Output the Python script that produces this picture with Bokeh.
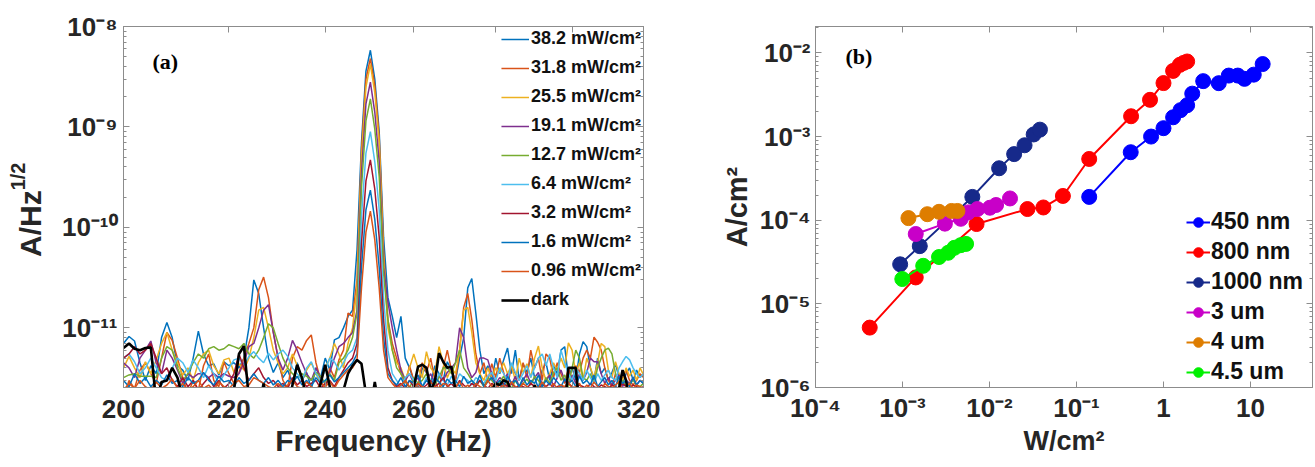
from bokeh.plotting import figure
from bokeh.models import (Range1d, FixedTicker, LogAxis, CustomJSTickFormatter,
                          Legend, LegendItem, Label)
from bokeh.layouts import row
from bokeh.embed import file_html
from bokeh.resources import INLINE

# ---------------- data: panel (a) ----------------
freq = list(range(200, 321))  # Hz
# noise current spectral density, in pA/Hz^1/2 (1e-12 A/Hz^1/2), one value per Hz from 200 to 320
s_38_2 = [7.0, 8.2, 7.4, 4.5, 3.0, 4.2, 3.5, 8.0, 11.3, 8.0,
          4.2, 3.8, 3.0, 5.0, 9.3, 5.5, 4.2, 4.4, 3.4, 4.6,
          4.2, 4.5, 4.0, 5.0, 10, 30, 22, 10, 5.0, 3.6,
          4.5, 3.2, 3.8, 2.8, 4.5, 3.0, 3.6, 2.5, 4.0, 3.2,
          5.0, 3.8, 7.6, 8.0, 10, 13, 15, 60, 700, 3600,
          5800, 3000, 900, 80, 20, 13, 8.0, 13, 5.0, 4.0,
          3.0, 2.5, 4.0, 3.6, 2.8, 4.2, 3.5, 3.0, 4.6, 3.8,
          3.0, 5.0, 8.0, 25, 31, 14, 6.0, 3.5, 4.2, 3.0,
          5.0, 3.5, 4.8, 6.3, 3.5, 6.0, 3.0, 4.4, 3.6, 5.0,
          3.2, 2.5, 3.8, 4.5, 3.0, 4.2, 3.5, 6.0, 6.5, 3.2,
          4.0, 3.0, 5.5, 7.3, 6.5, 4.0, 3.0, 5.0, 3.5, 4.0,
          3.0, 3.6, 4.4, 3.2, 2.8, 3.5, 4.0, 3.0, 3.8, 3.2,
          3.5]
s_31_8 = [2.0, 3.0, 2.5, 3.8, 4.5, 3.5, 2.8, 5.0, 9.0, 7.5,
          5.0, 3.2, 2.2, 3.0, 2.4, 4.2, 5.5, 3.0, 2.6, 4.6,
          3.5, 2.8, 3.6, 5.0, 7.0, 10, 24, 32, 20, 9.0,
          5.0, 3.0, 2.5, 5.0, 6.5, 6.0, 7.5, 8.5, 4.5, 3.0,
          2.5, 4.0, 3.2, 4.8, 6.0, 14, 13, 30, 600, 3000,
          4800, 2600, 800, 60, 12, 7.0, 5.0, 3.5, 2.8, 4.2,
          3.0, 2.6, 4.5, 3.6, 5.0, 3.0, 2.4, 4.0, 6.0, 3.8,
          3.0, 6.0, 16, 22, 12, 5.5, 3.5, 4.5, 3.0, 4.4,
          3.2, 5.0, 3.6, 2.6, 4.2, 3.5, 3.0, 4.5, 3.2, 6.0,
          4.0, 5.0, 3.0, 5.5, 5.0, 3.2, 4.5, 3.5, 2.8, 4.0,
          3.0, 4.2, 3.6, 5.0, 6.0, 5.0, 8.1, 7.2, 6.0, 4.0,
          3.0, 2.6, 3.5, 2.8, 3.2, 3.8, 3.0, 2.7, 3.0, 3.5,
          3.2]
s_25_5 = [4.0, 5.2, 4.0, 3.2, 4.6, 3.5, 4.8, 7.0, 9.0, 6.0,
          4.5, 3.4, 4.0, 3.0, 4.5, 5.5, 6.0, 4.2, 3.5, 4.8,
          5.0, 3.6, 4.4, 3.8, 5.0, 8.0, 15, 16, 10, 6.0,
          4.5, 3.5, 4.0, 5.5, 4.2, 3.0, 3.8, 4.5, 3.5, 2.8,
          4.0, 5.0, 7.0, 5.5, 4.0, 7.0, 10, 25, 500, 2500,
          4200, 2200, 700, 50, 10, 6.0, 4.5, 4.0, 3.0, 4.0,
          5.5, 4.0, 3.2, 5.8, 4.0, 3.5, 6.5, 4.5, 3.2, 4.0,
          3.5, 6.0, 15, 16, 9.0, 4.5, 3.5, 3.0, 4.0, 3.2,
          4.0, 3.6, 4.5, 3.5, 4.2, 3.0, 5.0, 3.6, 4.4, 3.2,
          5.0, 6.6, 4.0, 3.0, 3.5, 4.5, 3.8, 5.0, 4.0, 7.1,
          6.0, 3.5, 4.5, 3.0, 5.0, 4.0, 3.2, 4.5, 7.0, 6.5,
          3.8, 3.2, 4.6, 3.5, 3.0, 4.0, 3.3, 3.8, 3.0, 4.0,
          3.4]
s_19_1 = [4.5, 4.0, 3.2, 5.0, 6.0, 7.4, 4.5, 3.5, 6.0, 5.0,
          3.8, 2.8, 3.5, 3.2, 3.5, 3.5, 3.2, 3.5, 3.2, 3.5,
          3.3, 3.2, 3.5, 4.5, 6.5, 7.0, 10, 15, 17, 9.0,
          5.0, 3.8, 5.0, 7.5, 6.0, 4.5, 3.5, 3.0, 4.0, 3.2,
          2.8, 3.6, 5.0, 6.5, 7.0, 8.0, 9.0, 15, 350, 1700,
          2800, 1400, 450, 40, 18, 10, 6.0, 3.8, 3.0, 3.5,
          2.8, 3.2, 2.6, 3.0, 3.5, 2.8, 3.3, 3.0, 3.6, 4.0,
          4.5, 10, 8.0, 4.0, 3.2, 3.6, 5.0, 5.0, 4.8, 3.5,
          2.8, 3.2, 3.0, 3.5, 2.7, 3.3, 2.6, 3.0, 3.5, 2.8,
          3.2, 3.6, 2.7, 3.0, 3.4, 2.6, 3.2, 3.8, 3.0, 2.7,
          3.4, 2.8, 3.5, 3.0, 3.6, 5.0, 4.6, 4.6, 3.5, 2.8,
          3.2, 2.7, 3.0, 3.4, 2.6, 3.0, 2.8, 3.2, 2.7, 3.0,
          2.8]
s_12_7 = [3.2, 3.4, 3.5, 3.3, 3.3, 3.3, 3.2, 5.0, 6.5, 6.0,
          4.0, 3.0, 3.5, 4.5, 5.5, 5.0, 6.2, 6.5, 6.0, 6.2,
          6.8, 6.5, 6.2, 7.0, 5.5, 5.0, 6.0, 8.0, 11, 10,
          7.0, 5.0, 4.0, 3.5, 3.2, 3.5, 3.3, 3.0, 3.6, 3.3,
          2.8, 3.5, 3.0, 4.5, 5.0, 6.0, 8.0, 14, 250, 1150,
          1900, 950, 320, 35, 12, 6.0, 4.0, 3.5, 3.0, 2.5,
          3.2, 2.8, 3.0, 3.5, 3.0, 2.7, 3.2, 4.0, 4.0, 3.5,
          4.5, 6.0, 4.0, 3.5, 3.0, 2.7, 3.0, 2.6, 3.2, 3.0,
          2.7, 2.9, 3.3, 2.7, 2.5, 3.0, 2.6, 2.8, 3.1, 2.7,
          3.3, 3.0, 2.6, 3.2, 2.8, 3.6, 4.0, 3.0, 3.4, 2.6,
          4.0, 6.0, 5.0, 3.2, 3.0, 3.5, 2.8, 4.0, 5.0, 6.0,
          6.3, 5.5, 3.5, 2.7, 3.0, 2.6, 2.8, 3.0, 2.7, 2.6,
          2.8]
s_6_4 = [5.0, 5.5, 4.6, 3.5, 4.0, 5.0, 4.0, 3.2, 3.0, 4.0,
         5.0, 4.5, 3.6, 4.8, 4.0, 3.2, 4.2, 3.5, 2.8, 3.4,
         4.0, 4.8, 5.0, 4.2, 5.2, 5.8, 5.0, 4.5, 5.6, 4.8,
         5.5, 6.0, 5.2, 4.0, 3.5, 3.0, 4.0, 4.6, 3.5, 3.0,
         3.8, 5.0, 4.6, 3.8, 4.5, 5.5, 6.0, 8.0, 130, 550,
         900, 450, 150, 20, 6.0, 3.5, 3.0, 2.6, 3.2, 3.5,
         3.0, 2.7, 2.6, 3.2, 3.0, 2.8, 3.5, 3.0, 2.7, 3.3,
         2.8, 3.5, 3.2, 3.0, 2.7, 3.2, 3.0, 2.8, 3.3, 3.6,
         3.0, 4.0, 3.5, 3.0, 4.5, 3.6, 3.0, 3.5, 4.2, 3.2,
         4.0, 5.0, 5.5, 4.2, 5.5, 4.0, 3.2, 6.0, 4.5, 3.5,
         3.0, 4.0, 3.5, 3.0, 3.8, 3.2, 2.8, 3.5, 3.0, 3.4,
         3.8, 3.2, 3.0, 4.0, 4.6, 5.2, 4.8, 4.0, 3.5, 3.2,
         3.5]
s_3_2 = [5.0, 5.5, 6.5, 5.5, 6.0, 7.0, 5.0, 3.5, 4.0, 3.0,
         2.6, 3.2, 2.6, 3.0, 2.4, 2.8, 3.2, 2.6, 3.0, 2.5,
         2.8, 3.5, 5.5, 4.0, 3.0, 3.5, 4.0, 3.2, 2.8, 3.0,
         2.6, 2.8, 2.5, 3.2, 2.7, 3.0, 2.6, 2.8, 3.0, 2.5,
         2.8, 3.0, 2.6, 3.2, 3.8, 4.5, 5.0, 7.0, 70, 290,
         470, 240, 80, 12, 4.0, 3.0, 2.6, 2.8, 2.5, 3.0,
         2.6, 2.8, 2.5, 2.7, 3.0, 2.6, 2.8, 3.2, 2.6, 2.8,
         2.5, 3.0, 2.7, 2.5, 2.8, 2.6, 3.0, 2.7, 2.5, 2.8,
         2.6, 2.5, 2.8, 2.6, 2.9, 2.5, 2.7, 2.6, 2.5, 2.8,
         2.6, 2.5, 2.7, 2.6, 2.8, 2.5, 2.6, 2.7, 2.5, 2.8,
         2.6, 2.5, 2.7, 2.6, 2.5, 2.8, 2.6, 2.5, 2.7, 2.6,
         2.5, 2.7, 2.6, 2.5, 2.8, 2.6, 2.5, 2.7, 2.6, 2.5,
         2.6]
s_1_6 = [3.0, 2.6, 3.5, 2.8, 3.2, 2.6, 3.0, 2.7, 3.4, 2.8,
         3.0, 2.6, 3.2, 2.8, 3.0, 3.6, 3.0, 2.7, 3.3, 2.9,
         3.0, 2.6, 3.2, 2.8, 3.0, 3.5, 3.0, 2.8, 3.2, 2.7,
         3.0, 2.6, 3.0, 2.8, 3.3, 2.7, 3.0, 2.6, 3.2, 2.8,
         3.0, 3.4, 2.9, 3.2, 3.6, 4.0, 4.5, 5.5, 40, 150,
         235, 120, 40, 8.0, 3.5, 3.0, 2.7, 3.2, 2.6, 3.0,
         2.8, 3.4, 2.6, 3.0, 2.7, 3.2, 2.9, 2.6, 3.1, 2.8,
         3.0, 2.6, 3.3, 2.8, 3.0, 2.7, 3.4, 2.6, 2.9, 3.2,
         2.7, 3.0, 2.6, 3.3, 2.8, 3.0, 2.6, 3.2, 2.7, 3.0,
         2.8, 3.4, 2.6, 3.0, 2.7, 3.2, 2.9, 2.6, 3.1, 2.8,
         3.0, 2.6, 3.3, 2.8, 3.0, 2.7, 3.4, 2.6, 2.9, 3.2,
         2.7, 3.0, 2.6, 3.3, 2.8, 3.0, 2.6, 3.2, 2.7, 3.0,
         2.8]
s_0_96 = [2.4, 2.8, 2.5, 3.0, 2.6, 2.4, 2.9, 2.5, 2.7, 3.1,
          2.5, 2.8, 2.4, 2.6, 3.0, 2.5, 2.7, 2.4, 2.9, 2.6,
          2.5, 2.8, 3.0, 2.6, 2.7, 3.2, 3.0, 2.8, 2.6, 2.5,
          2.8, 2.5, 2.7, 3.0, 2.6, 2.5, 2.9, 2.6, 2.4, 2.8,
          2.6, 2.9, 2.5, 3.0, 3.4, 3.8, 4.0, 4.8, 25, 90,
          145, 75, 25, 6.0, 3.2, 2.8, 2.5, 2.7, 3.0, 2.6,
          2.5, 2.8, 2.6, 2.4, 2.9, 2.6, 2.5, 2.8, 2.7, 2.4,
          2.6, 2.9, 2.5, 2.7, 2.4, 2.8, 2.6, 2.5, 3.0, 2.6,
          2.8, 2.5, 2.7, 2.4, 2.9, 2.6, 2.5, 2.8, 2.6, 2.4,
          2.7, 2.5, 2.9, 2.6, 2.4, 2.8, 2.5, 2.7, 2.6, 2.9,
          2.5, 2.6, 2.8, 2.4, 2.7, 2.5, 2.9, 2.6, 2.4, 2.8,
          2.6, 2.5, 2.7, 2.9, 2.4, 2.6, 2.8, 2.5, 2.7, 2.6,
          2.5]
s_dark = [6.3, 7.0, 6.2, 6.0, 6.3, 6.4, 1.8, 2.9, 3.0, 4.0,
          3.2, 2.0, 1.5, 1.8, 1.6, 1.7, 1.5, 1.8, 1.6, 1.9,
          1.8, 2.4, 5.5, 6.6, 2.0, 1.8, 1.6, 2.8, 1.5, 1.7,
          1.5, 1.8, 1.6, 2.7, 4.3, 3.2, 2.0, 1.6, 1.8, 2.8,
          4.3, 2.6, 1.8, 1.5, 2.4, 3.5, 4.2, 4.8, 4.4, 2.2,
          1.5, 2.9, 1.6, 1.7, 1.5, 1.8, 1.6, 1.4, 1.7, 1.5,
          2.6, 4.1, 4.3, 4.0, 2.4, 2.9, 5.6, 4.6, 4.0, 4.1,
          2.4, 1.6, 1.8, 1.5, 1.7, 1.6, 1.5, 1.8, 1.6, 2.4,
          2.8, 2.7, 3.0, 2.9, 2.3, 1.6, 1.5, 1.7, 1.6, 1.5,
          2.7, 1.5, 1.7, 1.6, 1.5, 1.7, 1.6, 1.5, 1.6, 4.0,
          4.0, 4.0, 1.6, 1.5, 1.7, 1.6, 1.5, 1.8, 1.6, 1.5,
          1.7, 1.6, 1.5, 2.5, 3.8, 3.0, 1.8, 1.6, 1.5, 1.7,
          1.6]
labels_a = ["38.2 mW/cm²", "31.8 mW/cm²", "25.5 mW/cm²", "19.1 mW/cm²", "12.7 mW/cm²",
            "6.4 mW/cm²", "3.2 mW/cm²", "1.6 mW/cm²", "0.96 mW/cm²", "dark"]
series_a = [s_38_2, s_31_8, s_25_5, s_19_1, s_12_7, s_6_4, s_3_2, s_1_6, s_0_96, s_dark]
colors_a = ["#0072BD", "#D95319", "#EDB120", "#7E2F8E", "#77AC30",
            "#4DBEEE", "#A2142F", "#0072BD", "#D95319", "#000000"]
xticks_a = [200, 220, 240, 260, 280, 300, 320]
yticks_a = [1e-11, 1e-10, 1e-9, 1e-8]

# ---------------- data: panel (b) ----------------
labels_b = ["450 nm", "800 nm", "1000 nm", "3 um", "4 um", "4.5 um"]
colors_b = ["#0000FF", "#FF0000", "#16298A", "#C800C8", "#DE7D00", "#00F000"]
x_450 = [0.14, 0.42, 0.72, 1.0, 1.29, 1.57, 1.87, 2.14, 2.86, 4.32, 5.63, 7.15, 8.53, 10.9, 13.8]
y_450 = [1.9e-4, 6.5e-4, 1.0e-3, 1.26e-3, 1.7e-3, 2.07e-3, 2.37e-3, 3.26e-3, 4.6e-3, 4.35e-3,
         5.36e-3, 5.36e-3, 4.9e-3, 5.5e-3, 7.36e-3]
x_800 = [4.2e-4, 1.42e-3, 7.1e-3, 0.0273, 0.0416, 0.0698, 0.14, 0.424, 0.70, 1.0, 1.29, 1.54, 1.7, 1.87]
y_800 = [5.2e-6, 2.07e-5, 9.0e-5, 1.36e-4, 1.42e-4, 1.95e-4, 5.4e-4, 1.75e-3, 2.75e-3, 4.36e-3,
         6.1e-3, 7.2e-3, 7.6e-3, 7.9e-3]
x_1000 = [9.4e-4, 1.58e-3, 6.35e-3, 0.0129, 0.0192, 0.0253, 0.0322, 0.038]
y_1000 = [2.97e-5, 4.9e-5, 1.9e-4, 4.18e-4, 6.17e-4, 7.87e-4, 1.06e-3, 1.21e-3]
x_3um = [1.42e-3, 3.07e-3, 4.67e-3, 5.69e-3, 7.26e-3, 0.0101, 0.0119, 0.0172]
y_3um = [6.84e-5, 9.1e-5, 1.04e-4, 1.24e-4, 1.36e-4, 1.41e-4, 1.52e-4, 1.82e-4]
x_4um = [1.17e-3, 1.93e-3, 2.63e-3, 3.66e-3, 4.28e-3]
y_4um = [1.06e-4, 1.18e-4, 1.26e-4, 1.29e-4, 1.29e-4]
x_45um = [9.95e-4, 1.73e-3, 2.63e-3, 3.35e-3, 3.95e-3, 4.67e-3, 5.38e-3]
y_45um = [1.98e-5, 2.85e-5, 3.63e-5, 4.08e-5, 4.68e-5, 5.03e-5, 5.21e-5]
xs_b = [x_450, x_800, x_1000, x_3um, x_4um, x_45um]
ys_b = [y_450, y_800, y_1000, y_3um, y_4um, y_45um]
xticks_b = [1e-4, 1e-3, 1e-2, 1e-1, 1, 10]
yticks_b = [1e-6, 1e-5, 1e-4, 1e-3, 1e-2]

# ---------------- styling helpers ----------------
FONT = "Liberation Sans"
AX = "#8c8c8c"
TXT = "#262626"
NB = "\u00a0"

POW_JS = """
const s = {"-":"\\u207B","0":"\\u2070","1":"\\u00B9","2":"\\u00B2","3":"\\u00B3","4":"\\u2074",
           "5":"\\u2075","6":"\\u2076","7":"\\u2077","8":"\\u2078","9":"\\u2079"};
const e = Math.round(Math.log10(tick));
if (e == 0) { return "1"; }
if (e == 1) { return "10"; }
return "10" + String(e).split("").map(c => s[c]).join("");
"""


def minor_log(lo, hi):
    out = []
    for e in range(lo, hi):
        for m in range(2, 10):
            out.append(m * 10.0 ** e)
    return out


def style(ax, size, standoff):
    ax.axis_line_color = AX
    ax.axis_line_width = 1
    ax.major_tick_line_color = AX
    ax.minor_tick_line_color = AX
    ax.major_tick_in = 6
    ax.major_tick_out = 0
    ax.minor_tick_in = 3
    ax.minor_tick_out = 0
    ax.major_label_text_font = FONT
    ax.major_label_text_font_style = "bold"
    ax.major_label_text_font_size = size
    ax.major_label_text_color = TXT
    ax.major_label_standoff = standoff
    ax.axis_label_text_font = FONT
    ax.axis_label_text_font_style = "bold"
    ax.axis_label_text_color = TXT


def blank_axis(ticker):
    ax = LogAxis(ticker=ticker, formatter=CustomJSTickFormatter(code="return '';"))
    style(ax, "1px", 0)
    ax.major_label_text_alpha = 0
    return ax


def mirror(p, xticker, yticker):
    p.add_layout(blank_axis(xticker), "above")
    p.add_layout(blank_axis(yticker), "right")


# ---------------- panel (a) ----------------
pa = figure(width=660, height=467, x_axis_type="log", y_axis_type="log",
            x_range=Range1d(200, 320), y_range=Range1d(2.55e-12, 1e-8),
            output_backend="svg", toolbar_location=None,
            min_border_left=123, min_border_right=17, min_border_top=24, min_border_bottom=80)
pa.outline_line_color = AX
pa.xgrid.visible = False
pa.ygrid.visible = False

xt_a = FixedTicker(ticks=xticks_a, minor_ticks=[])
yt_a = FixedTicker(ticks=yticks_a, minor_ticks=minor_log(-12, -8))
pa.xaxis.ticker = xt_a
pa.yaxis.ticker = yt_a
pa.xaxis.formatter = CustomJSTickFormatter(code="return tick.toFixed(0);")
pa.yaxis.formatter = CustomJSTickFormatter(code=POW_JS)
style(pa.xaxis[0], "26px", 12)
style(pa.yaxis[0], "26px", 6)
pa.xaxis.axis_label = "Frequency (Hz)"
pa.xaxis.axis_label_text_font_size = "30px"
pa.xaxis.axis_label_standoff = 3
# y title "A/Hz^1/2": base text on the main axis, raised exponent on a bare second axis
pa.yaxis.axis_label = "A/Hz" + NB * 4
pa.yaxis.axis_label_text_font_size = "30px"
pa.yaxis.axis_label_standoff = 12
exp_axis = blank_axis(FixedTicker(ticks=[]))
exp_axis.axis_line_color = None
exp_axis.axis_label = NB * 11 + "1/2"
exp_axis.axis_label_text_font_size = "20px"
exp_axis.axis_label_standoff = -18
pa.add_layout(exp_axis, "left")
mirror(pa, xt_a, yt_a)

items_a = []
for lab, vals, col in zip(labels_a, series_a, colors_a):
    lw = 2.6 if lab == "dark" else 1.5
    r = pa.line(freq, [v * 1e-12 for v in vals], line_color=col, line_width=lw)
    items_a.append(LegendItem(label=lab, renderers=[r]))
leg_a = Legend(items=items_a, location="top_right", margin=2, padding=1, spacing=8,
               glyph_width=28, glyph_height=20, label_standoff=2, label_height=20,
               label_text_font=FONT, label_text_font_style="bold", label_text_font_size="18px",
               label_text_color="#111111", border_line_color=None, background_fill_alpha=0)
pa.add_layout(leg_a)
pa.add_layout(Label(x=29, y=326, x_units="screen", y_units="screen", text="(a)",
                    text_baseline="middle", text_font="Liberation Serif",
                    text_font_style="bold", text_font_size="22px", text_color="black"))

# ---------------- panel (b) ----------------
pb = figure(width=655, height=467, x_axis_type="log", y_axis_type="log",
            x_range=Range1d(1e-4, 51.6), y_range=Range1d(1e-6, 0.0207),
            output_backend="svg", toolbar_location=None,
            min_border_left=155, min_border_right=3, min_border_top=26, min_border_bottom=75)
pb.outline_line_color = AX
pb.xgrid.visible = False
pb.ygrid.visible = False

xt_b = FixedTicker(ticks=xticks_b, minor_ticks=[])
yt_b = FixedTicker(ticks=yticks_b, minor_ticks=minor_log(-6, -1))
pb.xaxis.ticker = xt_b
pb.yaxis.ticker = yt_b
pb.xaxis.formatter = CustomJSTickFormatter(code=POW_JS)
pb.yaxis.formatter = CustomJSTickFormatter(code=POW_JS)
style(pb.xaxis[0], "26px", 5)
style(pb.yaxis[0], "26px", 5)
pb.xaxis.axis_label = "W/cm²"
pb.xaxis.axis_label_text_font_size = "27px"
pb.xaxis.axis_label_standoff = 0
pb.yaxis.axis_label = "A/cm²"
pb.yaxis.axis_label_text_font_size = "29px"
pb.yaxis.axis_label_standoff = 4
mirror(pb, xt_b, yt_b)

items_b = []
for lab, xs, ys, col in zip(labels_b, xs_b, ys_b, colors_b):
    rl = pb.line(xs, ys, line_color=col, line_width=2)
    rs = pb.scatter(xs, ys, marker="circle", size=15, fill_color=col, line_color=col)
    items_b.append(LegendItem(label=lab, renderers=[rl, rs]))
leg_b = Legend(items=items_b, location=(371, 2), margin=0, padding=1, spacing=3,
               glyph_width=24, glyph_height=24, label_standoff=1, label_height=24,
               label_text_font=FONT, label_text_font_style="bold", label_text_font_size="23px",
               label_text_color="#111111", border_line_color=None, background_fill_alpha=0)
pb.add_layout(leg_b)
pb.add_layout(Label(x=30, y=331, x_units="screen", y_units="screen", text="(b)",
                    text_baseline="middle", text_font="Liberation Serif",
                    text_font_style="bold", text_font_size="22px", text_color="black"))

layout = row(pa, pb)
with open("out.html", "w", encoding="utf-8") as f:
    f.write(file_html(layout, INLINE))
